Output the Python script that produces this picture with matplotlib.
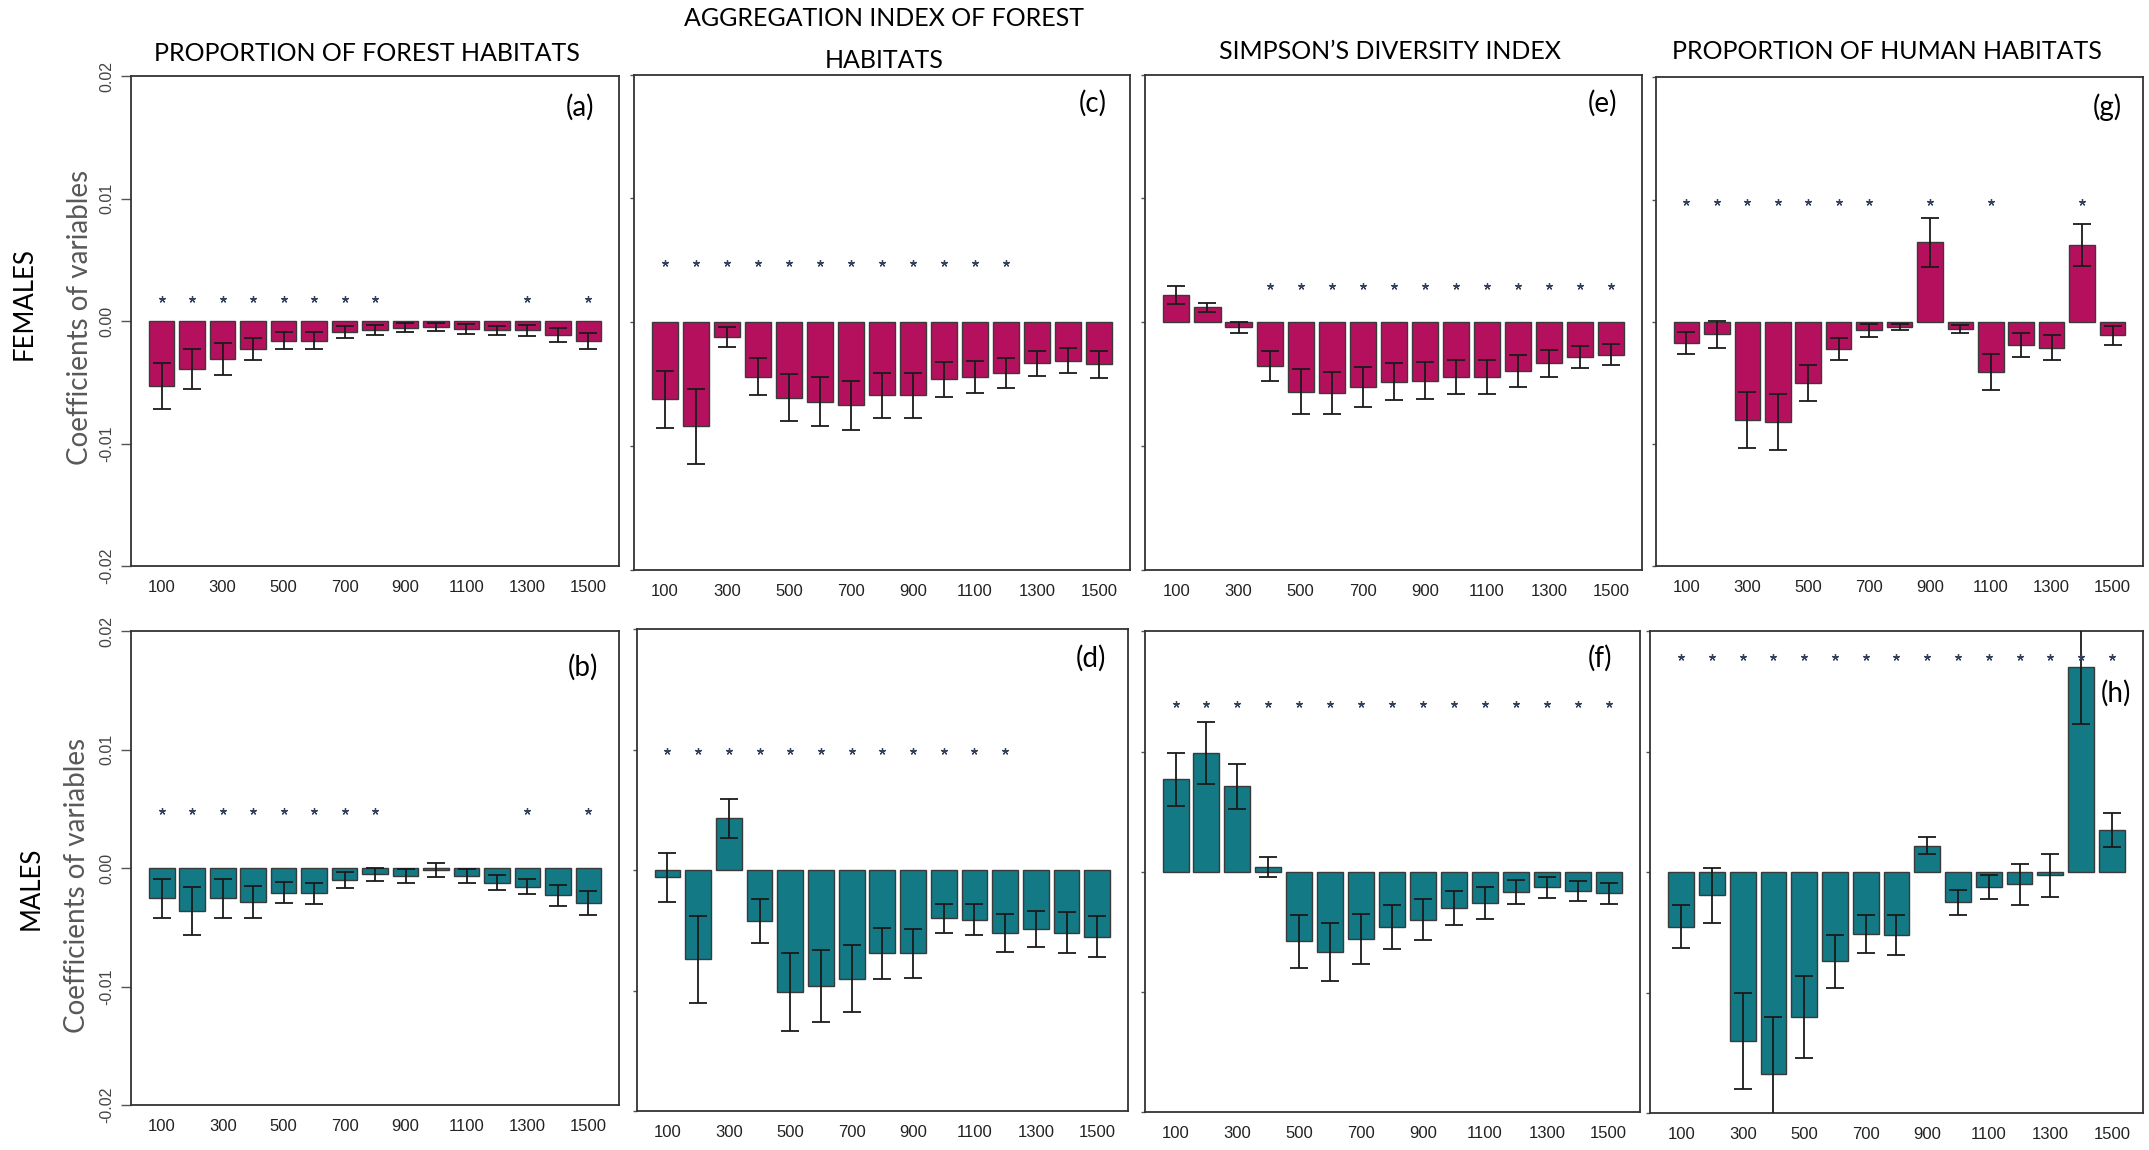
import numpy as np
import matplotlib.pyplot as plt

# buffer radius (m) around each location
radius = [100, 200, 300, 400, 500, 600, 700, 800, 900, 1000, 1100, 1200, 1300, 1400, 1500]

# ---- females ----
f_forest = [-0.0053, -0.0039, -0.0031, -0.00225, -0.0016, -0.0016, -0.00088, -0.0007,
            -0.00053, -0.00047, -0.00063, -0.00075, -0.00075, -0.00113, -0.0016]
f_forest_err = [0.0019, 0.0016, 0.0013, 0.0009, 0.0007, 0.0007, 0.00048, 0.0004,
                0.00036, 0.00034, 0.0004, 0.0004, 0.00042, 0.00055, 0.00066]
f_forest_sig = [1, 1, 1, 1, 1, 1, 1, 1, 0, 0, 0, 0, 1, 0, 1]

f_aggr = [-0.0062, -0.0084, -0.0012, -0.0044, -0.0061, -0.0064, -0.0067, -0.0059,
          -0.0059, -0.0046, -0.0044, -0.0041, -0.0033, -0.0031, -0.0034]
f_aggr_err = [0.0023, 0.003, 0.0008, 0.0015, 0.0019, 0.002, 0.002, 0.0018,
              0.0018, 0.0014, 0.0013, 0.0012, 0.001, 0.001, 0.0011]
f_aggr_sig = [1, 1, 1, 1, 1, 1, 1, 1, 1, 1, 1, 1, 0, 0, 0]

f_simpson = [0.0022, 0.0012, -0.0004, -0.0035, -0.0056, -0.0057, -0.0052, -0.0048,
             -0.0047, -0.0044, -0.0044, -0.0039, -0.0033, -0.0028, -0.0026]
f_simpson_err = [0.0007, 0.00036, 0.00045, 0.0012, 0.0018, 0.0017, 0.0016, 0.0015,
                 0.0015, 0.0014, 0.0014, 0.0013, 0.0011, 0.0009, 0.00086]
f_simpson_sig = [0, 0, 0, 1, 1, 1, 1, 1, 1, 1, 1, 1, 1, 1, 1]

f_human = [-0.0017, -0.001, -0.008, -0.0082, -0.005, -0.0022, -0.0007, -0.0004,
           0.0065, -0.0006, -0.0041, -0.0019, -0.0021, 0.0063, -0.0011]
f_human_err = [0.0009, 0.0011, 0.0023, 0.0023, 0.00145, 0.0009, 0.0005, 0.00023,
               0.002, 0.0003, 0.00145, 0.001, 0.001, 0.0017, 0.00077]
f_human_sig = [1, 1, 1, 1, 1, 1, 1, 0, 1, 0, 1, 0, 0, 1, 0]

# ---- males ----
m_forest = [-0.00255, -0.0036, -0.00255, -0.00285, -0.00206, -0.00212, -0.001, -0.00052,
            -0.00067, -0.00018, -0.00067, -0.00123, -0.00156, -0.0023, -0.00294]
m_forest_err = [0.00167, 0.002, 0.00163, 0.00135, 0.00092, 0.0009, 0.0007, 0.00057,
                0.00058, 0.0006, 0.0006, 0.00064, 0.00066, 0.00086, 0.001]
m_forest_sig = [1, 1, 1, 1, 1, 1, 1, 1, 0, 0, 0, 0, 1, 0, 1]

m_aggr = [-0.0006, -0.0074, 0.0043, -0.0042, -0.0101, -0.0096, -0.009, -0.0069,
          -0.0069, -0.004, -0.0041, -0.0052, -0.0049, -0.0052, -0.0055]
m_aggr_err = [0.002, 0.0036, 0.0016, 0.0018, 0.0032, 0.003, 0.0028, 0.0021,
              0.002, 0.0012, 0.0013, 0.0016, 0.0015, 0.0017, 0.0017]
m_aggr_sig = [1, 1, 1, 1, 1, 1, 1, 1, 1, 1, 1, 1, 0, 0, 0]

m_simpson = [0.0077, 0.0099, 0.0071, 0.0004, -0.0058, -0.0067, -0.0056, -0.0046,
             -0.004, -0.003, -0.0026, -0.0017, -0.0013, -0.0016, -0.0018]
m_simpson_err = [0.0022, 0.0026, 0.0019, 0.00085, 0.0022, 0.0024, 0.0021, 0.0018,
                 0.0017, 0.0014, 0.0013, 0.001, 0.00085, 0.00085, 0.0009]
m_simpson_sig = [1, 1, 1, 1, 1, 1, 1, 1, 1, 1, 1, 1, 1, 1, 1]

m_human = [-0.0045, -0.0019, -0.014, -0.0167, -0.012, -0.0074, -0.0051, -0.0052,
           0.0022, -0.0025, -0.0012, -0.001, -0.00024, 0.017, 0.0035]
m_human_err = [0.0018, 0.0023, 0.004, 0.0047, 0.0034, 0.0022, 0.0016, 0.0017,
               0.0007, 0.001, 0.001, 0.0017, 0.0018, 0.0047, 0.0014]
m_human_sig = [1, 1, 1, 1, 1, 1, 1, 1, 1, 1, 1, 1, 1, 1, 1]

FEMALE = '#B5105E'
MALE = '#127985'
TITLE_FONT = 'Lato'

fig = plt.figure(figsize=(21.49, 11.5), dpi=100)

# axes rectangle, star level, letter position (axes fraction)
panels = [
    ([0.0610, 0.5078, 0.2270, 0.4257], f_forest, f_forest_err, f_forest_sig, 0.0018, FEMALE, '(a)', (0.920, 0.938)),
    ([0.2950, 0.5043, 0.2308, 0.4308], f_aggr, f_aggr_err, f_aggr_sig, 0.00483, FEMALE, '(c)', (0.925, 0.943)),
    ([0.5330, 0.5043, 0.2311, 0.4308], f_simpson, f_simpson_err, f_simpson_sig, 0.00293, FEMALE, '(e)', (0.920, 0.943)),
    ([0.7706, 0.5075, 0.2266, 0.4253], f_human, f_human_err, f_human_sig, 0.00984, FEMALE, '(g)', (0.926, 0.939)),
    ([0.0611, 0.0389, 0.2269, 0.4124], m_forest, m_forest_err, m_forest_sig, 0.00485, MALE, '(b)', (0.926, 0.924)),
    ([0.2963, 0.0336, 0.2286, 0.4194], m_aggr, m_aggr_err, m_aggr_sig, 0.00986, MALE, '(d)', (0.925, 0.940)),
    ([0.5326, 0.0329, 0.2304, 0.4181], m_simpson, m_simpson_err, m_simpson_sig, 0.01392, MALE, '(f)', (0.920, 0.944)),
    ([0.7680, 0.0319, 0.2290, 0.4191], m_human, m_human_err, m_human_sig, 0.01788, MALE, '(h)', (0.946, 0.872)),
]

x = np.arange(len(radius))

for i, (rect, vals, errs, sig, star_y, col, letter, lpos) in enumerate(panels):
    ax = fig.add_axes(rect)
    ax.bar(x, vals, width=0.84, color=col, edgecolor='#3a3a3a', linewidth=1.0, zorder=2)
    ax.errorbar(x, vals, yerr=errs, fmt='none', ecolor='#1a1a1a', elinewidth=1.3,
                capsize=6.8, capthick=1.3, zorder=3)
    sx = x[np.array(sig) == 1]
    ax.plot(sx, [star_y] * len(sx), ls='none', marker=(5, 2, 0), ms=5, mew=0.9,
            color='#34425e', zorder=4)

    ax.set_xlim(-1, 15)
    ax.set_ylim(-0.02, 0.02)
    ax.set_xticks(x[::2])
    ax.set_xticklabels([str(r) for r in radius[::2]], family='Liberation Sans',
                       fontsize=12, color='#222222')
    ax.tick_params(axis='x', length=0, pad=10)
    ax.set_yticks([-0.02, -0.01, 0.0, 0.01, 0.02])
    first_col = i in (0, 4)
    if first_col:
        ax.set_yticklabels(['-0.02', '-0.01', '0.00', '0.01', '0.02'], rotation=90,
                           va='center', family='Liberation Sans', fontsize=11.5,
                           color='#444444')
        ax.tick_params(axis='y', length=7, width=1.0, color='#555555', pad=5)
    else:
        ax.set_yticklabels([])
        ax.tick_params(axis='y', length=3, width=1.0, color='#555555')
    for s in ax.spines.values():
        s.set_color('#333333')
        s.set_linewidth(1.3)
    ax.text(lpos[0], lpos[1], letter, transform=ax.transAxes, ha='center', va='center',
            family=TITLE_FONT, fontsize=20, color='black')

# column titles
fig.text(0.1708, 0.9534, 'PROPORTION OF FOREST HABITATS', ha='center', va='center',
         family=TITLE_FONT, fontsize=18)
fig.text(0.4114, 0.9835, 'AGGREGATION INDEX OF FOREST', ha='center', va='center',
         family=TITLE_FONT, fontsize=18)
fig.text(0.4114, 0.9470, 'HABITATS', ha='center', va='center',
         family=TITLE_FONT, fontsize=18)
fig.text(0.6468, 0.9550, 'SIMPSON\u2019S DIVERSITY INDEX', ha='center', va='center',
         family=TITLE_FONT, fontsize=18)
fig.text(0.8781, 0.9550, 'PROPORTION OF HUMAN HABITATS', ha='center', va='center',
         family=TITLE_FONT, fontsize=18)

# row labels
fig.text(0.0110, 0.7357, 'FEMALES', rotation=90, ha='center', va='center',
         family=TITLE_FONT, fontsize=18.5)
fig.text(0.0370, 0.7238, 'Coefficients of variables', rotation=90, ha='center',
         va='center', family=TITLE_FONT, fontsize=20, color='#595959')
fig.text(0.0147, 0.2278, 'MALES', rotation=90, ha='center', va='center',
         family=TITLE_FONT, fontsize=18.5)
fig.text(0.0360, 0.2304, 'Coefficients of variables', rotation=90, ha='center',
         va='center', family=TITLE_FONT, fontsize=20, color='#595959')

fig.savefig('out.png', dpi=100)
